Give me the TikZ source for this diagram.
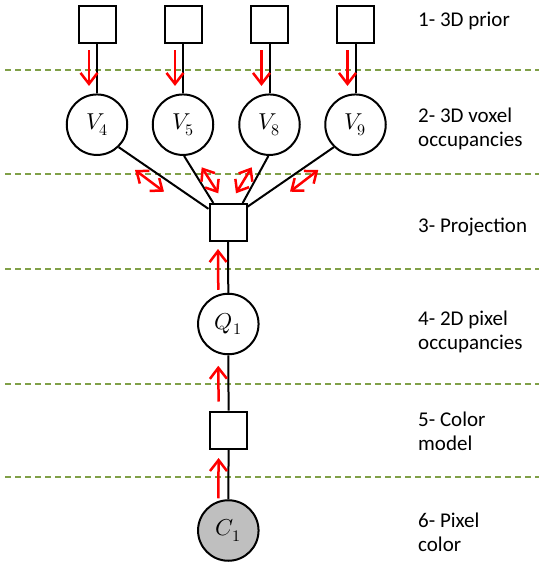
\documentclass[tikz,border=0pt]{standalone}
\usepackage{fontspec}
\usepackage{unicode-math}
\setmainfont{Carlito}
\setmathfont{Latin Modern Math}
\usetikzlibrary{arrows.meta,calc}

\definecolor{sepgreen}{RGB}{128,160,72}
\definecolor{obsgray}{RGB}{191,191,191}

\tikzset{
  factor/.style={draw, line width=2pt, rectangle, minimum size=37pt, inner sep=0pt},
  var/.style={draw, line width=2pt, circle, minimum size=60.5pt, inner sep=0pt,
              font=\fontsize{23}{27}\selectfont},
  edge/.style={line width=2pt},
  msg/.style={red, line width=2.5pt, -{Straight Barb[length=11pt,width=17pt]}},
  msgboth/.style={red, line width=2.5pt, {Straight Barb[length=10pt,width=16pt]}-{Straight Barb[length=10pt,width=16pt]}},
  sep/.style={sepgreen, line width=1.4pt, dash pattern=on 5.5pt off 4.5pt},
  layer/.style={anchor=west, align=left, inner sep=0pt, font=\fontsize{21}{24}\selectfont}
}

\begin{document}
\begin{tikzpicture}[x=1pt, y=-1pt]
\useasboundingbox (0,0) rectangle (539,566);

% layer separators
\foreach \yy in {70, 174, 269, 384, 477}
  \draw[sep] (5,\yy) -- (539,\yy);

% prior factors
\node[factor] (p4) at (97,24) {};
\node[factor] (p5) at (183,24) {};
\node[factor] (p8) at (269.5,24) {};
\node[factor] (p9) at (355.5,24) {};

% voxel occupancy variables
\node[var] (v4) at (97,124.7) {$V_4$};
\node[var] (v5) at (183,124.7) {$V_5$};
\node[var] (v8) at (269.5,124.7) {$V_8$};
\node[var] (v9) at (355.5,124.7) {$V_9$};

% projection factor, pixel occupancy, colour model, pixel colour
\node[factor] (proj) at (228,222.5) {};
\node[var] (q1) at (228.3,324) {$Q_1$};
\node[factor] (cm) at (228.6,430) {};
\node[var, fill=obsgray] (c1) at (228.3,530.5) {$C_1$};

% edges
\foreach \i in {4,5,8,9}
  \draw[edge] (p\i.south) -- (v\i.north);
\draw[edge] (v4.-46) -- (proj.145);
\draw[edge] (v5.-88) -- (proj.127);
\draw[edge] (v8.-92) -- (proj.53);
\draw[edge] (v9.-134) -- (proj.39);
\draw[edge] (proj.south) -- (q1.north);
\draw[edge] (q1.south) -- (cm.north);
\draw[edge] (cm.south) -- (c1.north);

% messages from the prior
\foreach \i in {4,5,8,9}
  \draw[msg] ($(p\i.south)+(-8,6.5)$) -- ($(v\i.north)+(-8,-7.5)$);

% messages exchanged through the projection factor
\coordinate (m4a) at (135,170);   \coordinate (m4b) at (164,191.7);
\coordinate (m5a) at (201.7,167.3); \coordinate (m5b) at (218.3,193.3);
\coordinate (m8a) at (251.7,167.3); \coordinate (m8b) at (236,193.3);
\coordinate (m9a) at (318.3,170);   \coordinate (m9b) at (290,191.7);
\foreach \i in {4,5,8,9}
  \draw[msgboth] (m\i a) -- (m\i b);

% upward messages
\draw[msg] ($(q1.north)+(-10,-3)$) -- ($(proj.south)+(-10,7)$);
\draw[msg] ($(cm.north)+(-10,-9)$) -- ($(q1.south)+(-10,10.5)$);
\draw[msg] ($(c1.north)+(-10,-1)$) -- ($(cm.south)+(-10,8.5)$);

% layer labels
\node[layer] (l1) at (418,21) {1- 3D prior};
\node[layer] (l2) at (418,129) {2- 3D voxel\\occupancies};
\node[layer] (l3) at (418,227) {3- Projection};
\node[layer] (l4) at (418,331.5) {4- 2D pixel\\occupancies};
\node[layer] (l5) at (418,431.5) {5- Color\\model};
\node[layer] (l6) at (418,532.5) {6- Pixel\\color};
\end{tikzpicture}
\end{document}
